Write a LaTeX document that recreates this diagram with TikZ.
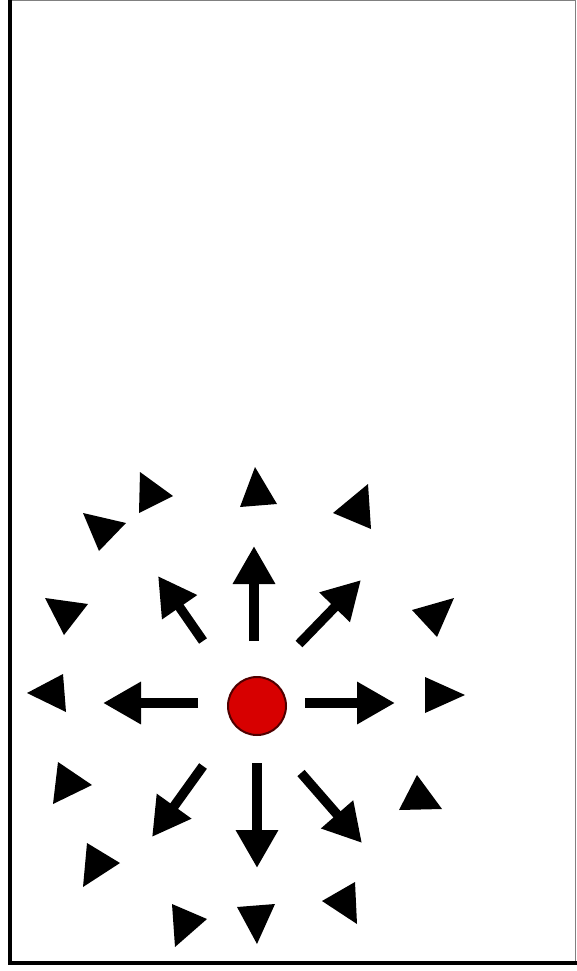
\documentclass[tikz,border=0pt]{standalone}
\usetikzlibrary{arrows.meta}
\definecolor{chargered}{RGB}{215,0,0}
\definecolor{chargeedge}{RGB}{80,0,0}
\tikzset{
  field/.style={line width=9.5pt,-{Triangle[width=40pt,length=38pt]}},
  charge/.style={circle,draw=chargeedge,fill=chargered,line width=2pt,
    minimum size=58pt,inner sep=0pt}
}
\begin{document}
\begin{tikzpicture}[x=1pt,y=-1pt]
  \useasboundingbox (0,0) rectangle (577,971);
  % frame
  \draw[gray,line width=1pt] (10,1) -- (575,1) -- (575,963);
  \draw[black,line width=4pt] (9.5,0) -- (9.5,963) -- (577,963);
  % point charge
  \node[charge] (q) at (257,706) {};
  % field arrows near the charge
  \foreach \name/\tx/\ty/\hx/\hy in {n/254/641/254/546, s/257/763/257/868,
      w/198/703/103/703, e/305/703/395/703, nw/203/641/158/576,
      ne/299/644/361/580, sw/203/766/152/837, se/301/773/362/843} {
    \coordinate (tail-\name) at (\tx,\ty);
    \coordinate (tip-\name) at (\hx,\hy);
    \draw[field] (tail-\name) -- (tip-\name);
  }
  % loose heads further out
  \foreach \ax/\ay/\bx/\by/\cx/\cy in {255/467/277/504/240/507,
      140/472/173/496/139/513, 83/513/126/523/99/551,
      45/598/88/604/64/635, 27/693/63/674/66/712,
      58/762/92/785/53/804, 87/843/120/863/83/887,
      172/904/207/919/175/947, 237/907/275/904/257/944,
      322/901/355/882/357/924, 417/775/442/809/399/810,
      425/677/465/695/425/713, 412/610/454/598/437/637,
      333/513/368/484/371/529} {
    \fill (\ax,\ay) -- (\bx,\by) -- (\cx,\cy) -- cycle;
  }
\end{tikzpicture}
\end{document}
